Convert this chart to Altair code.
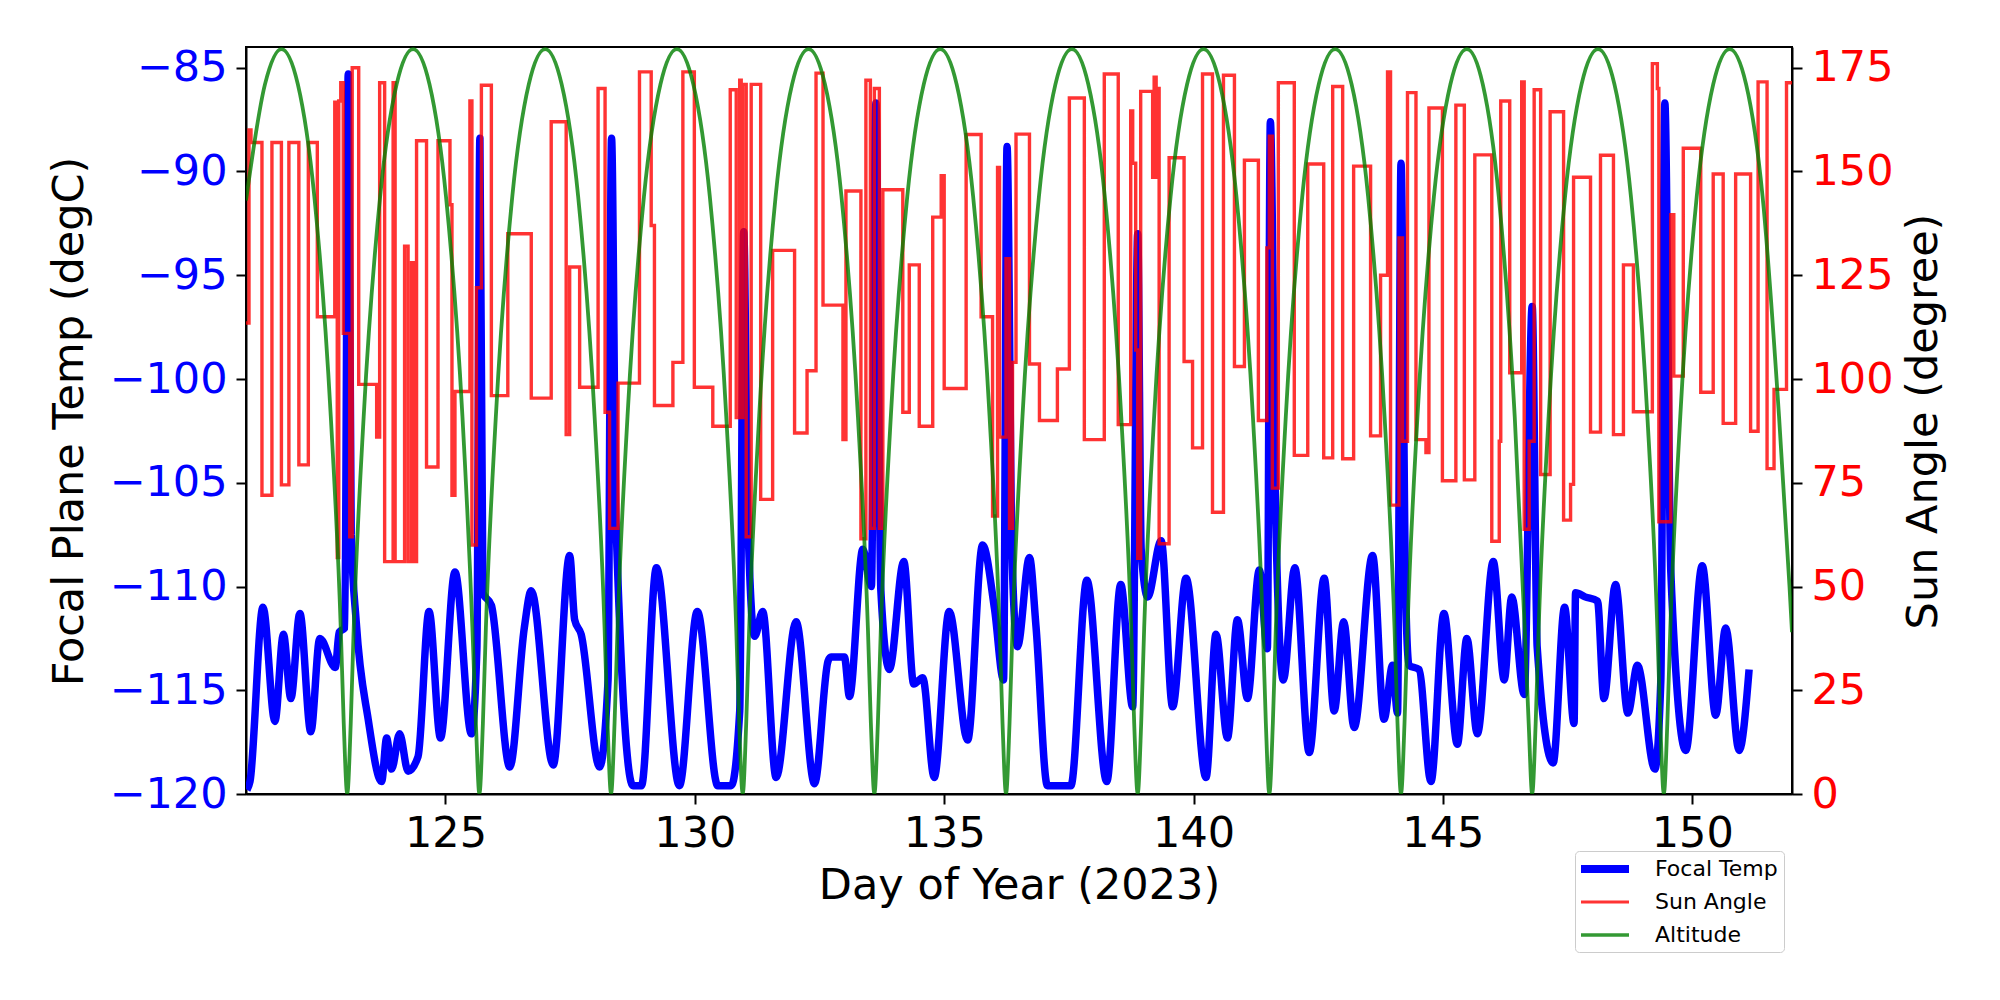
import altair as alt
import pandas as pd

# ---------------- Focal plane temperature (degC), left axis ----------------
temp_day = [121.02, 121.08, 121.34, 121.58, 121.75, 121.90, 122.08, 122.30, 122.48, 122.79,
            122.87, 122.98, 123.05, 123.11, 123.21, 123.45, 123.72, 123.82, 123.92, 124.08,
            124.25, 124.45, 124.67, 124.90, 125.19, 125.52, 125.63, 125.69, 125.75, 125.92,
            126.29, 126.58, 126.72, 127.16, 127.49, 127.59, 127.72, 128.09, 128.26, 128.33,
            128.42, 128.76, 128.93, 129.23, 129.69, 130.05, 130.46, 130.73, 130.90, 130.98,
            131.06, 131.20, 131.36, 131.63, 132.03, 132.40, 132.67, 132.73, 133.00, 133.10,
            133.37, 133.54, 133.63, 133.73, 133.90, 134.19, 134.39, 134.57, 134.80, 135.10,
            135.47, 135.77, 136.01, 136.19, 136.26, 136.36, 136.47, 136.71, 136.84, 137.07,
            137.54, 137.86, 138.26, 138.54, 138.78, 138.88, 138.95, 139.08, 139.35, 139.58,
            139.85, 140.25, 140.45, 140.68, 140.88, 141.08, 141.32, 141.48, 141.54, 141.65,
            141.80, 142.03, 142.32, 142.62, 142.82, 143.01, 143.22, 143.59, 143.82, 143.99,
            144.09, 144.16, 144.25, 144.32, 144.52, 144.76, 145.02, 145.29, 145.48, 145.69,
            146.01, 146.23, 146.38, 146.63, 146.79, 146.89, 147.21, 147.44, 147.63, 147.66,
            147.85, 148.10, 148.23, 148.46, 148.71, 148.90, 149.25, 149.37, 149.45, 149.57,
            149.87, 150.20, 150.47, 150.67, 150.94, 151.14]
temp_val = [-119.8, -119.4, -111.0, -116.5, -112.3, -115.4, -111.3, -117.0, -112.5, -113.9,
            -112.2, -112.0, -85.3, -107.5, -111.7, -116.4, -119.4, -117.3, -118.8, -117.1,
            -118.9, -118.2, -111.2, -117.3, -109.3, -117.1, -113.0, -88.4, -110.3, -110.9,
            -118.7, -112.0, -110.2, -118.6, -108.5, -111.6, -112.3, -118.7, -114.5, -88.4,
            -107.0, -119.6, -119.6, -109.1, -119.6, -111.2, -119.6, -119.6, -116.0, -92.9,
            -106.5, -112.4, -111.2, -119.2, -111.7, -119.5, -113.6, -113.4, -113.4, -115.3,
            -108.2, -110.0, -86.7, -110.2, -114.0, -108.8, -114.7, -114.4, -119.2, -111.2,
            -117.4, -108.0, -111.1, -114.5, -88.8, -108.5, -112.9, -108.6, -111.9, -119.6,
            -119.6, -109.7, -119.4, -109.9, -115.8, -93.0, -108.2, -110.5, -107.8, -115.8,
            -109.6, -119.2, -112.3, -117.3, -111.6, -115.4, -109.2, -113.0, -87.6, -107.0,
            -114.5, -109.1, -118.0, -109.6, -116.0, -111.7, -116.8, -108.5, -116.4, -113.8,
            -116.1, -89.6, -110.0, -113.8, -114.0, -119.4, -111.3, -117.6, -112.5, -117.1,
            -108.8, -114.5, -110.5, -115.2, -96.5, -112.9, -118.5, -111.0, -116.6, -110.3,
            -110.5, -110.7, -115.4, -109.9, -116.1, -113.8, -118.8, -114.5, -86.7, -109.3,
            -117.9, -109.0, -116.2, -112.0, -117.9, -114.0]

# ---------------- Sun angle (degree), right axis (step series) ----------------
sun_day = [121.00, 121.06, 121.10, 121.32, 121.52, 121.71, 121.86, 122.06, 122.25, 122.43,
           122.78, 122.83, 122.86, 122.90, 122.95, 123.08, 123.13, 123.26, 123.62, 123.68,
           123.78, 123.95, 123.99, 124.18, 124.25, 124.32, 124.37, 124.42, 124.62, 124.85,
           125.09, 125.13, 125.19, 125.49, 125.53, 125.62, 125.72, 125.92, 126.25, 126.72,
           127.12, 127.42, 127.49, 127.69, 128.06, 128.20, 128.29, 128.46,
           128.89, 129.125, 129.19, 129.56, 129.76, 129.99, 130.36, 130.71, 130.83, 130.90,
           130.93, 130.96, 131.03, 131.13, 131.32, 131.56, 132.00, 132.25, 132.43, 132.57,
           132.97, 133.03, 133.33, 133.43, 133.52, 133.60, 133.70, 133.77, 134.17, 134.30,
           134.50, 134.77, 134.94, 135.00, 135.44, 135.74, 135.97, 136.07, 136.11, 136.24,
           136.31, 136.37, 136.44,
           136.71, 136.91, 137.27, 137.51, 137.81, 138.21, 138.49, 138.74, 138.78, 138.84,
           138.88, 138.94, 139.18, 139.21, 139.25, 139.28, 139.31, 139.51, 139.81, 139.98,
           140.18, 140.38, 140.60, 140.82, 141.02, 141.30, 141.47, 141.52, 141.58, 141.70,
           142.02, 142.29, 142.61, 142.79, 142.99, 143.21, 143.55, 143.75, 143.89, 143.95,
           144.12, 144.19, 144.29,
           144.46, 144.66, 144.72, 144.99, 145.26, 145.43, 145.64, 145.98, 146.13, 146.16,
           146.34, 146.58, 146.63, 146.73, 146.83, 146.96, 147.15, 147.42, 147.56, 147.62,
           147.96, 148.16, 148.42, 148.62, 148.82, 149.20, 149.30, 149.33, 149.57, 149.63,
           149.82, 150.17, 150.42, 150.62, 150.87, 151.17, 151.32, 151.50, 151.64, 151.89,
           152.00]
sun_val = [113.5, 160.0, 157.0, 72.0, 157.0, 74.5, 157.0, 79.3, 157.0, 115.0,
           166.7, 57.0, 167.0, 171.4, 111.0, 62.0, 175.0, 98.7, 86.0, 171.4,
           56.0, 171.4, 56.0, 132.0, 56.0, 128.0, 56.0, 157.4, 78.8, 157.4,
           142.0, 72.0, 97.0, 167.0, 60.0, 122.0, 170.8, 96.0, 135.0, 95.4,
           162.0, 86.6, 127.0, 98.0, 170.0, 92.0, 64.0, 99.0,
           174.0, 137.0, 93.6, 104.0, 174.0, 98.0, 88.6, 169.7, 90.7, 172.0,
           90.7, 171.0, 62.0, 171.0, 71.0, 131.0, 87.0, 102.0, 173.7, 117.8,
           85.4, 145.3, 61.5, 172.0, 64.0, 170.0, 64.0, 145.6, 92.0, 127.5,
           88.6, 139.0, 149.0, 97.7, 158.9, 115.0, 67.0, 151.0, 86.0, 129.0,
           64.0, 104.0, 159.0,
           103.6, 90.0, 102.4, 167.7, 85.4, 173.5, 89.0, 164.6, 152.0, 107.0,
           56.8, 169.3, 148.6, 172.7, 148.6, 170.0, 60.3, 153.3, 104.2, 83.4,
           173.5, 67.9, 173.2, 103.0, 152.7, 90.0, 131.6, 158.5, 73.7, 171.4,
           81.6, 151.8, 81.0, 170.5, 80.8, 151.3, 86.3, 125.0, 174.0, 69.6,
           134.0, 85.0, 169.0,
           85.4, 82.3, 165.3, 75.5, 166.0, 75.7, 154.0, 60.9, 85.0, 167.0,
           101.5, 171.6, 63.8, 85.0, 169.7, 77.0, 164.4, 66.0, 74.6, 148.6,
           87.2, 153.9, 86.6, 127.5, 92.1, 176.0, 170.0, 65.6, 139.6, 100.7,
           155.6, 96.8, 149.4, 89.3, 149.4, 87.4, 171.6, 78.4, 97.5, 171.4,
           171.4]

# ---------------- Altitude, drawn on the right-axis scale ----------------
alt_day = [121.00, 121.38, 121.71, 122.04, 122.37, 122.70, 122.90, 122.96, 123.03,
           123.10, 123.16, 123.36, 123.69, 124.02, 124.35, 124.68, 125.01, 125.34, 125.54, 125.61, 125.68,
           125.75, 125.81, 126.01, 126.34, 126.67, 127.00, 127.33, 127.66, 127.99, 128.19, 128.25, 128.32,
           128.39, 128.45, 128.65, 128.98, 129.31, 129.64, 129.97, 130.30, 130.63, 130.83, 130.89, 130.96,
           131.03, 131.09, 131.29, 131.62, 131.95, 132.28, 132.61, 132.94, 133.27, 133.47, 133.53, 133.60,
           133.67, 133.73, 133.93, 134.26, 134.59, 134.92, 135.25, 135.58, 135.91, 136.11, 136.17, 136.24,
           136.31, 136.37, 136.57, 136.90, 137.23, 137.56, 137.89, 138.22, 138.55, 138.75, 138.81, 138.88,
           138.95, 139.01, 139.21, 139.54, 139.87, 140.20, 140.53, 140.86, 141.19, 141.39, 141.45, 141.52,
           141.59, 141.65, 141.85, 142.18, 142.51, 142.84, 143.17, 143.50, 143.83, 144.03, 144.09, 144.16,
           144.23, 144.29, 144.49, 144.82, 145.15, 145.48, 145.80, 146.12, 146.44, 146.64, 146.72, 146.79,
           146.86, 146.92, 147.12, 147.45, 147.78, 148.11, 148.44, 148.77, 149.10, 149.30, 149.36, 149.43,
           149.50, 149.56, 149.76, 150.09, 150.42, 150.75, 151.08, 151.41, 151.74, 151.95, 152.00]
alt_val = [143, 171, 179.5, 171, 144, 91, 40, 17, 0,
           17, 40, 91, 144, 171, 179.5, 171, 144, 91, 40, 17, 0,
           17, 40, 91, 144, 171, 179.5, 171, 144, 91, 40, 17, 0,
           17, 40, 91, 144, 171, 179.5, 171, 144, 91, 40, 17, 0,
           17, 40, 91, 144, 171, 179.5, 171, 144, 91, 40, 17, 0,
           17, 40, 91, 144, 171, 179.5, 171, 144, 91, 40, 17, 0,
           17, 40, 91, 144, 171, 179.5, 171, 144, 91, 40, 17, 0,
           17, 40, 91, 144, 171, 179.5, 171, 144, 91, 40, 17, 0,
           17, 40, 91, 144, 171, 179.5, 171, 144, 91, 40, 17, 0,
           17, 40, 91, 144, 171, 179.5, 171, 144, 91, 40, 17, 0,
           17, 40, 91, 144, 171, 179.5, 171, 144, 91, 40, 17, 0,
           17, 40, 91, 144, 171, 179.5, 171, 144, 91, 50, 39]

# ---------------- legend / ticks ----------------
legend_names = ["Focal Temp", "Sun Angle", "Altitude"]
legend_colors = ["#0000ff", "#ff3333", "#339933"]
legend_shapes = ["M-2,-0.33L2,-0.33L2,0.33L-2,0.33Z",
                 "M-2,-0.12L2,-0.12L2,0.12L-2,0.12Z",
                 "M-2,-0.14L2,-0.14L2,0.14L-2,0.14Z"]

x_ticks = [125, 130, 135, 140, 145, 150]
temp_ticks = [-120, -115, -110, -105, -100, -95, -90, -85]
sun_ticks = [0, 25, 50, 75, 100, 125, 150, 175]

temp_df = pd.DataFrame({"day": temp_day, "temp": temp_val})
sun_df = pd.DataFrame({"day": sun_day, "sun": sun_val})
alt_df = pd.DataFrame({"day": alt_day, "alt": alt_val})
leg_df = pd.DataFrame({"series": legend_names})

FONT = "DejaVu Sans"
FS = 43

x_enc = alt.X(
    "day:Q",
    scale=alt.Scale(domain=[121, 152], nice=False, zero=False),
    axis=alt.Axis(values=x_ticks, title="Day of Year (2023)", format="d",
                  labelColor="black", labelPadding=8,
                  titleX=773, titleY=104, titleBaseline="alphabetic"),
)

blue = alt.Chart(temp_df).mark_line(
    color="#0000ff", strokeWidth=7.5, interpolate="monotone", clip=True, strokeJoin="round"
).encode(
    x=x_enc,
    y=alt.Y("temp:Q",
            scale=alt.Scale(domain=[-120, -84], nice=False, zero=False),
            axis=alt.Axis(orient="left", values=temp_ticks, format="d",
                          title="Focal Plane Temp (degC)", labelColor="#0000ff",
                          labelPadding=9, titleAngle=270, titleX=-164, titleY=374,
                          titleBaseline="alphabetic", titleAlign="center")),
)

red = alt.Chart(sun_df).mark_line(
    color="#ff0000", opacity=0.8, strokeWidth=3.4, interpolate="step-after", clip=True
).encode(
    x=x_enc,
    y=alt.Y("sun:Q",
            scale=alt.Scale(domain=[0, 180], nice=False, zero=False),
            axis=alt.Axis(orient="right", values=sun_ticks, format="d",
                          title="Sun Angle (degree)", labelColor="#ff0000",
                          labelPadding=9, titleAngle=270, titleX=144, titleY=374,
                          titleBaseline="alphabetic", titleAlign="center")),
)

green = alt.Chart(alt_df).mark_line(
    color="#008000", opacity=0.8, strokeWidth=3.8, interpolate="monotone", clip=True
).encode(
    x=x_enc,
    y=alt.Y("alt:Q", scale=alt.Scale(domain=[0, 180], nice=False, zero=False), axis=None),
)

leg = alt.Legend(
    title=None, orient="none", legendX=1329, legendY=804,
    symbolSize=576, symbolStrokeWidth=0, symbolOffset=12, symbolOpacity=1,
    labelOffset=38, rowPadding=10, padding=6,
    fillColor="white", strokeColor="#cccccc", cornerRadius=4,
    labelFontSize=22, labelFont=FONT, labelColor="black", labelLimit=400,
)

legend_layer = alt.Chart(leg_df).mark_point(filled=True, opacity=1).encode(
    color=alt.Color("series:N", scale=alt.Scale(domain=legend_names, range=legend_colors), legend=leg),
    shape=alt.Shape("series:N", scale=alt.Scale(domain=legend_names, range=legend_shapes), legend=leg),
).transform_filter(alt.datum.series == "none")

chart = alt.layer(blue, red, green, legend_layer).resolve_scale(
    y="independent"
).properties(
    width=1546, height=747,
    padding={"left": 238, "top": 39, "right": 192, "bottom": 198},
    autosize=alt.AutoSizeParams(type="none"),
    background="white",
).configure_view(
    stroke="black", strokeWidth=2
).configure_axis(
    grid=False, labelFont=FONT, titleFont=FONT, labelFontSize=FS, titleFontSize=FS,
    titleFontWeight="normal", titleColor="black", tickSize=10, tickWidth=2,
    tickColor="black", domainColor="black", domainWidth=2,
)

chart.save("out.html", embed_options={"renderer": "svg", "actions": False})
